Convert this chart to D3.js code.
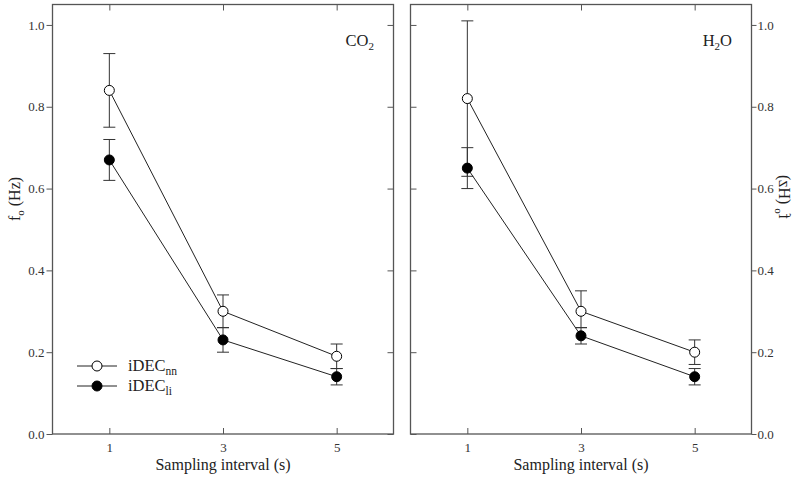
<!DOCTYPE html>
<html><head><meta charset="utf-8">
<script src="https://cdn.jsdelivr.net/npm/d3@7"></script>
<style>body{margin:0;background:#fff}svg{display:block}text{font-family:"Liberation Serif","Times New Roman",serif}</style>
</head><body>
<svg id="c" width="800" height="479"></svg>
<script>
const intervals = [1, 3, 5];
const xTicks = [1, 3, 5];
const yTicks = [0, 0.2, 0.4, 0.6, 0.8, 1.0];
// CO2 panel
const co2_nn = [0.84, 0.30, 0.19];
const co2_nn_lo = [0.75, 0.26, 0.16];
const co2_nn_hi = [0.93, 0.34, 0.22];
const co2_li = [0.67, 0.23, 0.14];
const co2_li_lo = [0.62, 0.20, 0.12];
const co2_li_hi = [0.72, 0.26, 0.16];
// H2O panel
const h2o_nn = [0.82, 0.30, 0.20];
const h2o_nn_lo = [0.63, 0.26, 0.17];
const h2o_nn_hi = [1.01, 0.35, 0.23];
const h2o_li = [0.65, 0.24, 0.14];
const h2o_li_lo = [0.60, 0.22, 0.12];
const h2o_li_hi = [0.70, 0.26, 0.16];

const svg = d3.select("#c");
const axisColor = "#555";
const FONT = '"Liberation Serif","Times New Roman",serif';
const y = d3.scaleLinear().domain([0, 1.05]).range([434, 4.5]);

const panels = [
  {x0: 52.5, x1: 393.5, gas: ["CO", "2", ""], side: "left",
   series: [
     {v: co2_nn, lo: co2_nn_lo, hi: co2_nn_hi, fill: "#fff"},
     {v: co2_li, lo: co2_li_lo, hi: co2_li_hi, fill: "#000"}]},
  {x0: 410.5, x1: 751.5, gas: ["H", "2", "O"], side: "right",
   series: [
     {v: h2o_nn, lo: h2o_nn_lo, hi: h2o_nn_hi, fill: "#fff"},
     {v: h2o_li, lo: h2o_li_lo, hi: h2o_li_hi, fill: "#000"}]}
];

panels.forEach((p, pi) => {
  const x = d3.scaleLinear().domain([0, 6]).range([p.x0, p.x1]);
  const g = svg.append("g");
  const styleAxis = sel => {
    sel.attr("font-family", null);
    sel.select(".domain").remove();
    sel.selectAll("line").attr("stroke", axisColor);
    sel.selectAll("text").attr("fill", "#333").style("font-size", "13px").style("font-family", FONT);
  };
  // frame
  g.append("rect").attr("x", p.x0).attr("y", 4.5).attr("width", p.x1 - p.x0).attr("height", 434 - 4.5)
    .attr("fill", "none").attr("stroke", axisColor).attr("stroke-width", 1.3);
  // bottom axis (inward ticks)
  g.append("g").attr("transform", "translate(0,434)")
    .call(d3.axisBottom(x).tickValues(xTicks).tickFormat(d3.format("d")).tickSizeInner(-6).tickSizeOuter(0).tickPadding(9))
    .call(styleAxis);
  // top axis inward ticks
  g.append("g").attr("transform", "translate(0,4.5)")
    .call(d3.axisTop(x).tickValues(xTicks).tickFormat("").tickSizeInner(-6).tickSizeOuter(0))
    .call(styleAxis);
  if (p.side === "left") {
    g.append("g").attr("transform", `translate(${p.x0},0)`)
      .call(d3.axisLeft(y).tickValues(yTicks).tickFormat(d3.format(".1f")).tickSizeInner(6).tickSizeOuter(0).tickPadding(2))
      .call(styleAxis);
    g.append("g").attr("transform", `translate(${p.x1},0)`)
      .call(d3.axisRight(y).tickValues(yTicks).tickFormat("").tickSizeInner(-6).tickSizeOuter(0))
      .call(styleAxis);
  } else {
    g.append("g").attr("transform", `translate(${p.x1},0)`)
      .call(d3.axisRight(y).tickValues(yTicks).tickFormat(d3.format(".1f")).tickSizeInner(5).tickSizeOuter(0).tickPadding(1))
      .call(styleAxis);
    g.append("g").attr("transform", `translate(${p.x0},0)`)
      .call(d3.axisLeft(y).tickValues(yTicks).tickFormat("").tickSizeInner(-6).tickSizeOuter(0))
      .call(styleAxis);
  }
  // x title
  g.append("text").attr("x", (p.x0 + p.x1) / 2).attr("y", 470).attr("text-anchor", "middle")
    .style("font-size", "16px").attr("fill", "#222").text("Sampling interval (s)");
  // y title (right one is mirrored as in the reference)
  const yt = g.append("text").style("font-size", "16px").attr("fill", "#222").attr("text-anchor", "middle");
  if (p.side === "left") yt.attr("transform", "translate(20,199) rotate(-90)");
  else yt.attr("transform", "translate(779,197) scale(-1,1) rotate(-90)");
  yt.append("tspan").text("f");
  yt.append("tspan").attr("dy", 4).style("font-size", "11px").text("o");
  yt.append("tspan").attr("dy", -4).text(" (Hz)");
  // gas label
  const gl = g.append("text").attr("x", p.x1 - 19.5).attr("y", 46).attr("text-anchor", "end")
    .style("font-size", "16.5px").attr("fill", "#222");
  gl.append("tspan").text(p.gas[0]);
  gl.append("tspan").attr("dy", 4).style("font-size", "11px").text(p.gas[1]);
  if (p.gas[2]) gl.append("tspan").attr("dy", -4).text(p.gas[2]);

  // series
  const line = d3.line().x((d, i) => x(intervals[i])).y(d => y(d));
  p.series.forEach(s => {
    g.append("path").datum(s.v).attr("d", line).attr("fill", "none").attr("stroke", "#222").attr("stroke-width", 1);
    const eb = g.append("g").attr("stroke", "#333").attr("stroke-width", 1);
    intervals.forEach((iv, i) => {
      const cx = x(iv);
      eb.append("line").attr("x1", cx).attr("x2", cx).attr("y1", y(s.lo[i])).attr("y2", y(s.hi[i]));
      eb.append("line").attr("x1", cx - 6).attr("x2", cx + 6).attr("y1", y(s.lo[i])).attr("y2", y(s.lo[i]));
      eb.append("line").attr("x1", cx - 6).attr("x2", cx + 6).attr("y1", y(s.hi[i])).attr("y2", y(s.hi[i]));
    });
    g.append("g").selectAll("circle").data(s.v).join("circle")
      .attr("cx", (d, i) => x(intervals[i])).attr("cy", d => y(d)).attr("r", 5)
      .attr("fill", s.fill).attr("stroke", "#000").attr("stroke-width", 1);
  });

  if (pi === 0) {
    const leg = [{name: "iDEC", sub: "nn", fill: "#fff", yy: 366}, {name: "iDEC", sub: "li", fill: "#000", yy: 386}];
    leg.forEach(l => {
      g.append("line").attr("x1", 77).attr("x2", 117).attr("y1", l.yy).attr("y2", l.yy).attr("stroke", "#222");
      g.append("circle").attr("cx", 97).attr("cy", l.yy).attr("r", 5).attr("fill", l.fill).attr("stroke", "#000");
      const t = g.append("text").attr("x", 128).attr("y", l.yy + 5).style("font-size", "16.5px").attr("fill", "#222");
      t.append("tspan").text(l.name);
      t.append("tspan").attr("dy", 4).style("font-size", "11.5px").text(l.sub);
    });
  }
});
</script>
</body></html>
